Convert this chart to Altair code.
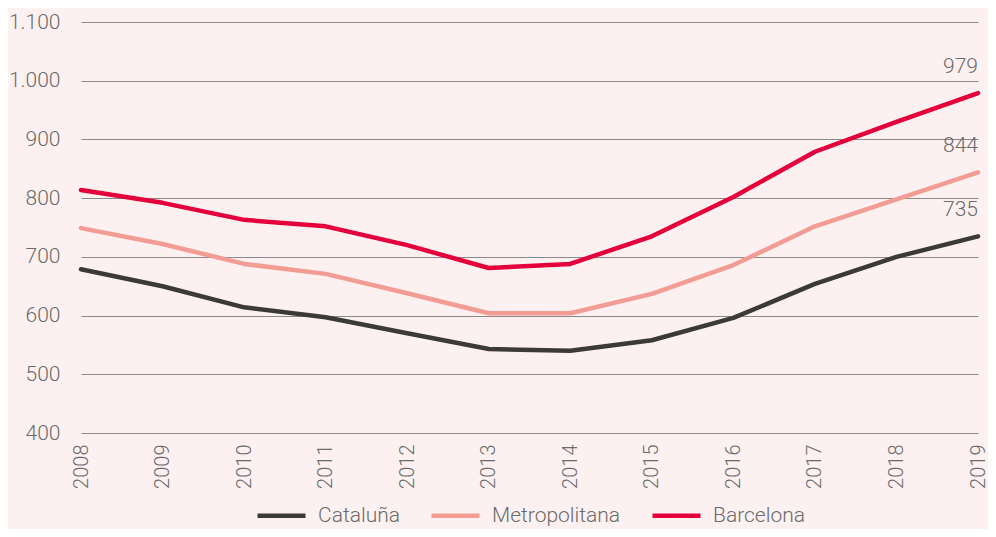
import altair as alt
import pandas as pd

years = [2008, 2009, 2010, 2011, 2012, 2013, 2014, 2015, 2016, 2017, 2018, 2019]
cataluna = [679, 650, 614, 597, 570, 543, 540, 558, 596, 654, 700, 735]
metropolitana = [749, 722, 688, 671, 638, 604, 604, 637, 686, 752, 798, 844]
barcelona = [814, 792, 763, 752, 720, 681, 688, 735, 802, 879, 930, 979]
series_names = ["Cataluña", "Metropolitana", "Barcelona"]
series_colors = ["#3b3a39", "#f29c93", "#e4003b"]

rows = []
for name, vals in zip(series_names, [cataluna, metropolitana, barcelona]):
    for y, v in zip(years, vals):
        rows.append({"Año": str(y), "Valor": v, "Serie": name})
df = pd.DataFrame(rows)
last = df[df["Año"] == "2019"]

font = "Roboto"
x = alt.X("Año:O", scale=alt.Scale(type="point", padding=0),
          axis=alt.Axis(title=None, labelAngle=-90, labelFontSize=20, labelColor="#6b6b6b",
                        labelFont=font, labelFontWeight=300, ticks=False, domain=False,
                        grid=False, labelPadding=11))
y = alt.Y("Valor:Q", scale=alt.Scale(domain=[400, 1100], nice=False),
          axis=alt.Axis(title=None, values=[400, 500, 600, 700, 800, 900, 1000, 1100],
                        labelExpr="replace(format(datum.value, ','), ',', '.')",
                        labelFontSize=21, labelColor="#6b6b6b", labelFont=font,
                        labelFontWeight=300, ticks=False, domain=False, grid=True,
                        gridColor="#8a8a8a", gridWidth=1, labelPadding=21))
color = alt.Color("Serie:N", scale=alt.Scale(domain=series_names, range=series_colors),
                  legend=alt.Legend(title=None, orient="none", direction="horizontal",
                                    legendX=174, legendY=467, symbolType="stroke",
                                    symbolSize=2304, symbolStrokeWidth=4.5,
                                    labelFontSize=21, labelColor="#6b6b6b", labelFont=font,
                                    labelFontWeight=300, columnPadding=22, labelOffset=10))

lines = alt.Chart(df).mark_line(strokeWidth=4.5, strokeCap="round", strokeJoin="round").encode(
    x=x, y=y, color=color)

labels = alt.Chart(last).mark_text(align="right", baseline="bottom", dy=-16, fontSize=21,
                                   font=font, fontWeight=300, color="#6b6b6b").encode(
    x="Año:O", y="Valor:Q", text="Valor:Q")

chart = alt.layer(lines, labels).properties(
    width=897, height=411, background="#fcf1f0",
    padding={"left": 73, "top": 14, "right": 10, "bottom": 96},
    autosize=alt.AutoSizeParams(type="none"),
).configure_view(stroke=None)

chart.save("out.html", embed_options={"renderer": "svg", "actions": False})
